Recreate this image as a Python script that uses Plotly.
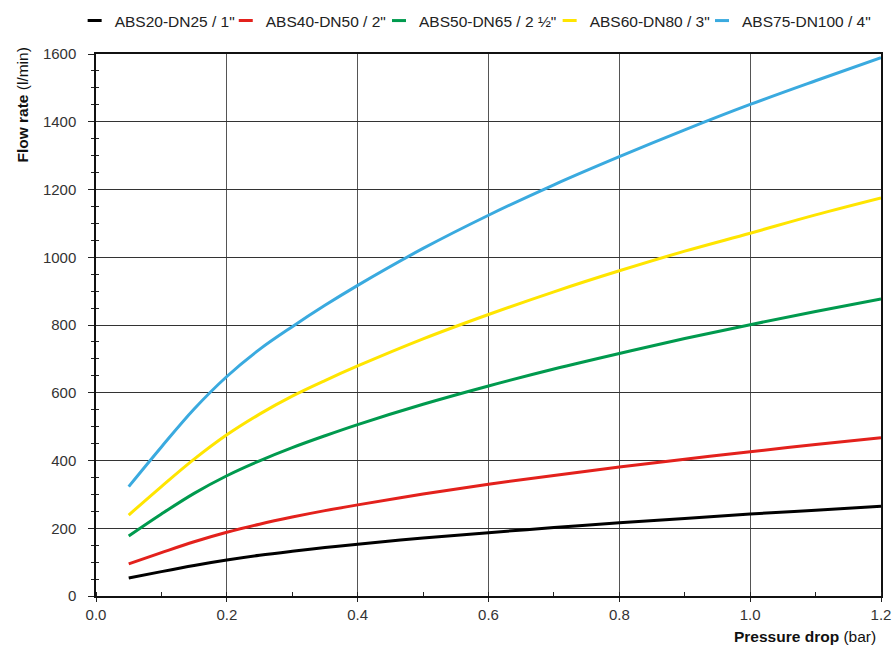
import plotly.graph_objects as go

pressure = [0.05, 0.1, 0.15, 0.2, 0.25, 0.3, 0.35, 0.4, 0.5, 0.6, 0.7, 0.8, 0.9, 1.0, 1.1, 1.2]
abs20 = [53, 72, 90, 106, 120, 132, 143, 153, 171, 187, 202, 216, 229, 242, 253, 265]
abs40 = [95, 128, 160, 188, 212, 233, 252, 269, 301, 330, 356, 381, 404, 426, 447, 467]
abs50 = [177, 242, 303, 355, 399, 438, 473, 506, 566, 620, 670, 716, 760, 801, 840, 877]
abs60 = [239, 323, 404, 476, 537, 590, 636, 679, 759, 831, 898, 960, 1018, 1071, 1125, 1175]
abs75 = [323, 440, 552, 648, 728, 795, 858, 917, 1026, 1124, 1214, 1297, 1376, 1451, 1521, 1589]

names = ['ABS20-DN25 / 1"', 'ABS40-DN50 / 2"', 'ABS50-DN65 / 2 ½"',
         'ABS60-DN80 / 3"', 'ABS75-DN100 / 4"']
series = [abs20, abs40, abs50, abs60, abs75]
colors = ["#000000", "#e3211c", "#009a4e", "#ffe500", "#3aaadf"]

x_ticks = [0.0, 0.2, 0.4, 0.6, 0.8, 1.0, 1.2]
y_ticks = [0, 200, 400, 600, 800, 1000, 1200, 1400, 1600]

FONT = "Liberation Sans, Arial, Helvetica, sans-serif"
legend_ids = ["legend", "legend2", "legend3", "legend4", "legend5"]
legend_x = [-0.0272, 0.1653, 0.3605, 0.5779, 0.7720]

fig = go.Figure()
for name, ys, c in zip(names, series, colors):
    fig.add_trace(go.Scatter(x=pressure, y=ys, mode="lines", name=name,
                             line=dict(color=c, width=3, shape="spline", smoothing=1.0),
                             showlegend=False, hoverinfo="x+y"))
# legend entries (one legend per series, placed in a row)
for name, c, lid in zip(names, colors, legend_ids):
    fig.add_trace(go.Scatter(x=[None], y=[None], mode="markers", name=name,
                             marker=dict(symbol="line-ew", size=10, color=c,
                                         line=dict(color=c, width=3)),
                             showlegend=True, legend=lid))
# overlay axis for inside minor ticks on y
fig.add_trace(go.Scatter(x=[None], y=[None], yaxis="y2", showlegend=False))

legend_common = dict(orientation="h", xanchor="left", y=1.0609, yanchor="middle",
                     yref="paper", xref="paper", font=dict(size=15.5, color="#222"),
                     itemwidth=30, bgcolor="rgba(0,0,0,0)", borderwidth=0)
legends = {lid: dict(legend_common, x=lx) for lid, lx in zip(legend_ids, legend_x)}

fig.update_layout(
    width=892, height=646,
    margin=dict(l=96, r=11, t=54, b=50, autoexpand=False),
    paper_bgcolor="white", plot_bgcolor="white",
    font=dict(family=FONT, size=13, color="#222"),
    xaxis=dict(range=[0, 1.2], tickvals=x_ticks, tickformat=".1f",
               showgrid=True, gridcolor="#555", gridwidth=1,
               ticks="outside", ticklen=4, tickcolor="#222",
               showline=True, linecolor="#111", linewidth=1.5, mirror=True,
               zeroline=False, tickfont=dict(size=15, color="#333"),
               minor=dict(dtick=0.1, ticks="inside", ticklen=4, tickcolor="#222",
                          showgrid=False)),
    yaxis=dict(range=[0, 1600], tickvals=y_ticks,
               showgrid=True, gridcolor="#333", gridwidth=1,
               ticks="outside", ticklen=6, tickcolor="#222",
               showline=True, linecolor="#111", linewidth=1.5, mirror=True,
               zeroline=False, tickfont=dict(size=15, color="#333"),
               ticklabelstandoff=9,
               minor=dict(dtick=50, ticks="outside", ticklen=3, tickcolor="#222",
                          showgrid=False)),
    yaxis2=dict(range=[0, 1600], overlaying="y", side="left", showgrid=False,
                showticklabels=False, ticks="", zeroline=False,
                minor=dict(dtick=50, ticks="inside", ticklen=3, tickcolor="#222")),
    annotations=[
        dict(text="<b>Flow rate</b> (l/min)", xref="paper", yref="paper",
             x=-0.094, y=1.015, xanchor="center", yanchor="top", textangle=-90,
             showarrow=False, font=dict(size=15.5, color="#111")),
        dict(text="<b>Pressure drop</b> (bar)", xref="paper", yref="paper",
             x=0.996, y=-0.0756, xanchor="right", yanchor="middle",
             showarrow=False, font=dict(size=15.5, color="#111")),
    ],
    **legends,
)

fig.write_html("out.html", config={"displayModeBar": False},
               post_script="document.body.style.margin='0px';")
